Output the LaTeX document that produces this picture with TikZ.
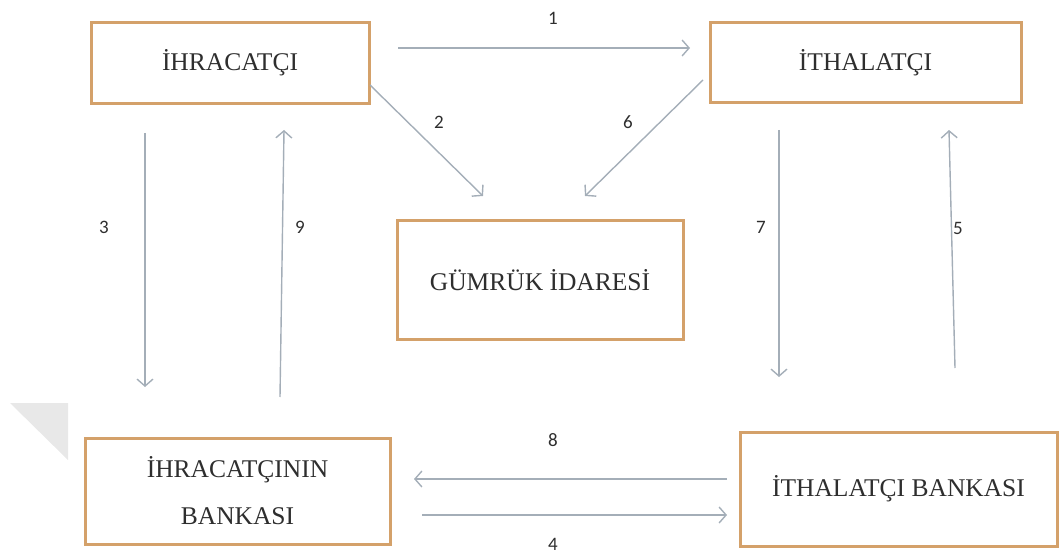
\documentclass[tikz,border=0pt]{standalone}
\usepackage{fontspec}
\setmainfont{Liberation Serif}
\newfontfamily\numfont{Carlito}
\usetikzlibrary{arrows.meta}
\definecolor{boxcol}{HTML}{D4A16A}
\definecolor{arrcol}{HTML}{A4AEB8}
\definecolor{txtcol}{HTML}{2E2E2E}
\definecolor{wmcol}{HTML}{E8E8E8}
\tikzset{
  box/.style={draw=boxcol, line width=3pt, fill=white, inner sep=0pt,
    text=txtcol, font=\fontsize{25.5}{47}\selectfont, align=center},
  flow/.style={draw=arrcol, line width=1.4pt, -{Straight Barb[length=7pt,width=16pt]}},
  num/.style={text=txtcol, font=\numfont\fontsize{19}{20}\selectfont}
}
\begin{document}
\begin{tikzpicture}[x=1pt,y=-1pt]
\useasboundingbox (0,0) rectangle (1060,553);
% faint watermark triangle
\fill[wmcol] (10,403) -- (68,403) -- (68,460) -- cycle;
% boxes
\node[box, minimum width=278pt, minimum height=81pt] (ihr) at (230,63) {İHRACATÇI};
\node[box, minimum width=311pt, minimum height=80pt] (ith) at (865.5,63) {İTHALATÇI};
\node[box, minimum width=286pt, minimum height=118pt] (gum) at (540,280) {GÜMRÜK İDARESİ};
\node[box, minimum width=305pt, minimum height=106pt] (ihrb) at (237.5,491) {İHRACATÇININ\\BANKASI};
\node[box, minimum width=317pt, minimum height=114pt] (ithb) at (898.5,489) {İTHALATÇI BANKASI};
% arrow endpoints
\coordinate (a1s) at (398,48);  \coordinate (a1e) at (690,48);
\coordinate (a2s) at (370,85);  \coordinate (a2e) at (483,196);
\coordinate (a6s) at (703,80);  \coordinate (a6e) at (585,196);
\coordinate (a3s) at (145,133); \coordinate (a3e) at (145,387);
\coordinate (a9s) at (280,397); \coordinate (a9e) at (284,130);
\coordinate (a7s) at (779,130); \coordinate (a7e) at (779,377);
\coordinate (a5s) at (955,368); \coordinate (a5e) at (949,130);
\coordinate (a8s) at (727,479); \coordinate (a8e) at (414,479);
\coordinate (a4s) at (422,515); \coordinate (a4e) at (727,515);
% arrows
\draw[flow] (a1s) -- (a1e);
\draw[flow] (a2s) -- (a2e);
\draw[flow] (a6s) -- (a6e);
\draw[flow] (a3s) -- (a3e);
\draw[flow] (a9s) -- (a9e);
\draw[flow] (a7s) -- (a7e);
\draw[flow] (a5s) -- (a5e);
\draw[flow] (a8s) -- (a8e);
\draw[flow] (a4s) -- (a4e);
% labels
\node[num] (l1) at (553,18) {1};
\node[num] (l2) at (439,122) {2};
\node[num] (l6) at (628,122) {6};
\node[num] (l3) at (104,227) {3};
\node[num] (l9) at (300,227) {9};
\node[num] (l7) at (761,227) {7};
\node[num] (l5) at (958,228) {5};
\node[num] (l8) at (553,440) {8};
\node[num] (l4) at (553,544) {4};
\end{tikzpicture}
\end{document}
